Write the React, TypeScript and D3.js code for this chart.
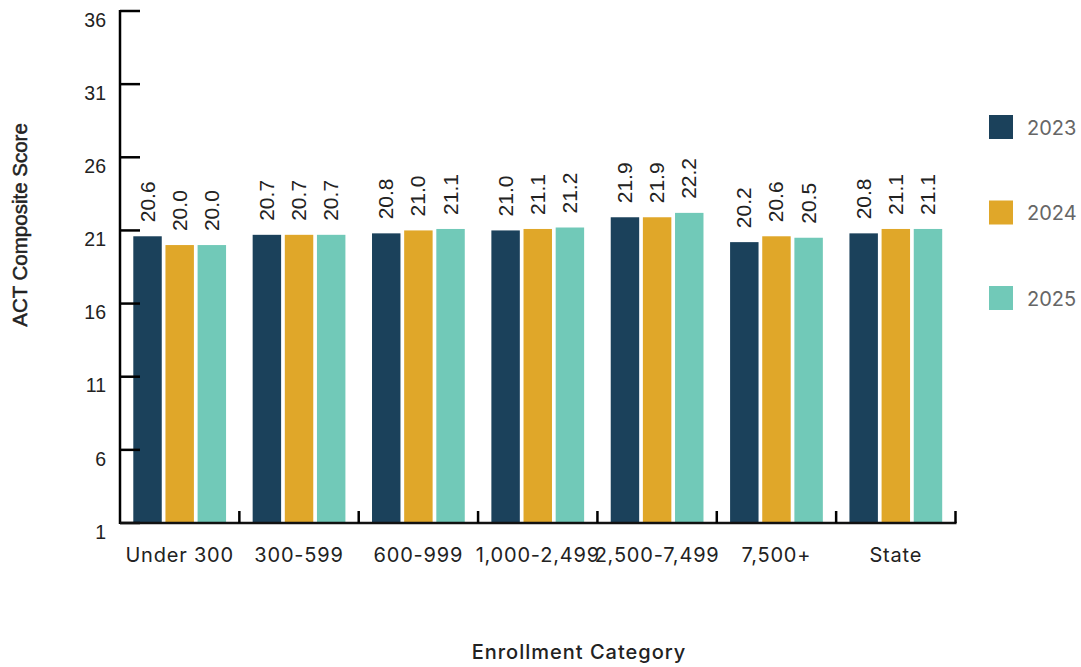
import React from "react";
import * as d3 from "d3";

const categories = ["Under 300", "300-599", "600-999", "1,000-2,499", "2,500-7,499", "7,500+", "State"];
const seriesNames = ["2023", "2024", "2025"];
const values2023 = [20.6, 20.7, 20.8, 21.0, 21.9, 20.2, 20.8];
const values2024 = [20.0, 20.7, 21.0, 21.1, 21.9, 20.6, 21.1];
const values2025 = [20.0, 20.7, 21.1, 21.2, 22.2, 20.5, 21.1];
const labels2023 = ["20.6", "20.7", "20.8", "21.0", "21.9", "20.2", "20.8"];
const labels2024 = ["20.0", "20.7", "21.0", "21.1", "21.9", "20.6", "21.1"];
const labels2025 = ["20.0", "20.7", "21.1", "21.2", "22.2", "20.5", "21.1"];
const yTicks = [1, 6, 11, 16, 21, 26, 31, 36];
const colors = ["#1b415b", "#e0a729", "#71c9b8"];

const series = [
  { name: seriesNames[0], values: values2023, labels: labels2023 },
  { name: seriesNames[1], values: values2024, labels: labels2024 },
  { name: seriesNames[2], values: values2025, labels: labels2025 },
];

const W = 1081;
const H = 667;
const left = 120;
const right = 955.5;
const top = 11;
const bottom = 523;

export default function App() {
  const y = d3.scaleLinear().domain([1, 36]).range([bottom, top]);
  const x0 = d3.scaleBand<string>().domain(categories).range([left, right]).paddingInner(0).paddingOuter(0);
  const x1 = d3
    .scaleBand<string>()
    .domain(seriesNames)
    .range([13.3, x0.bandwidth() - 13.3])
    .paddingInner(0.115)
    .paddingOuter(0);
  const numFont = "'Liberation Sans', Arial, sans-serif";
  const txtFont = "Inter, 'Open Sans', sans-serif";

  return (
    <svg width={W} height={H} style={{ position: "absolute", left: 0, top: 0 }}>
      <rect width={W} height={H} fill="#fff" />
      {/* bars */}
      {categories.map((c, i) => (
        <g key={c} transform={`translate(${x0(c)},0)`}>
          {series.map((s, j) => {
            const bx = x1(s.name)!;
            const bw = x1.bandwidth();
            const by = y(s.values[i]);
            return (
              <g key={s.name}>
                <rect x={bx} y={by} width={bw} height={bottom - by} fill={colors[j]} />
                <text
                  transform={`translate(${bx + bw / 2 + 7},${by - 14}) rotate(-90)`}
                  fontFamily={numFont}
                  fontSize={21}
                  fill="#222"
                >
                  {s.labels[i]}
                </text>
              </g>
            );
          })}
        </g>
      ))}
      {/* y axis */}
      <line x1={left} x2={left} y1={top - 1} y2={bottom + 1} stroke="#000" strokeWidth={2.5} />
      {yTicks.map((t) => (
        <g key={t}>
          <line x1={left} x2={left + 20} y1={y(t)} y2={y(t)} stroke="#000" strokeWidth={2.5} />
          <text x={106} y={y(t) + 15.7} textAnchor="end" fontFamily={numFont} fontSize={19.5} fill="#222">
            {t}
          </text>
        </g>
      ))}
      {/* x axis */}
      <line x1={left} x2={right + 1} y1={bottom} y2={bottom} stroke="#111" strokeWidth={2.5} />
      {categories.map((c) => (
        <line
          key={c}
          x1={x0(c)! + x0.bandwidth()}
          x2={x0(c)! + x0.bandwidth()}
          y1={bottom}
          y2={bottom - 12}
          stroke="#000"
          strokeWidth={2.5}
        />
      ))}
      {categories.map((c) => (
        <text
          key={c}
          x={x0(c)! + x0.bandwidth() / 2}
          y={561.5}
          textAnchor="middle"
          fontFamily={txtFont}
          fontSize={20}
          letterSpacing={0.8}
          fill="#222"
        >
          {c}
        </text>
      ))}
      {/* axis titles */}
      <text
        x={579}
        y={659}
        textAnchor="middle"
        fontFamily={txtFont}
        fontSize={20}
        letterSpacing={1}
        fontWeight={500}
        fill="#222"
      >
        Enrollment Category
      </text>
      <text
        transform={`translate(27,225) rotate(-90)`}
        textAnchor="middle"
        fontFamily={numFont}
        fontSize={20.5}
        fill="#222"
        stroke="#222"
        strokeWidth={0.5}
      >
        ACT Composite Score
      </text>
      {/* legend */}
      {series.map((s, j) => (
        <g key={s.name} transform={`translate(989,${115 + j * 85.5})`}>
          <rect width={24} height={24} fill={colors[j]} />
          <text x={38} y={19.5} fontFamily={txtFont} fontSize={20} fill="#666">
            {s.name}
          </text>
        </g>
      ))}
    </svg>
  );
}
